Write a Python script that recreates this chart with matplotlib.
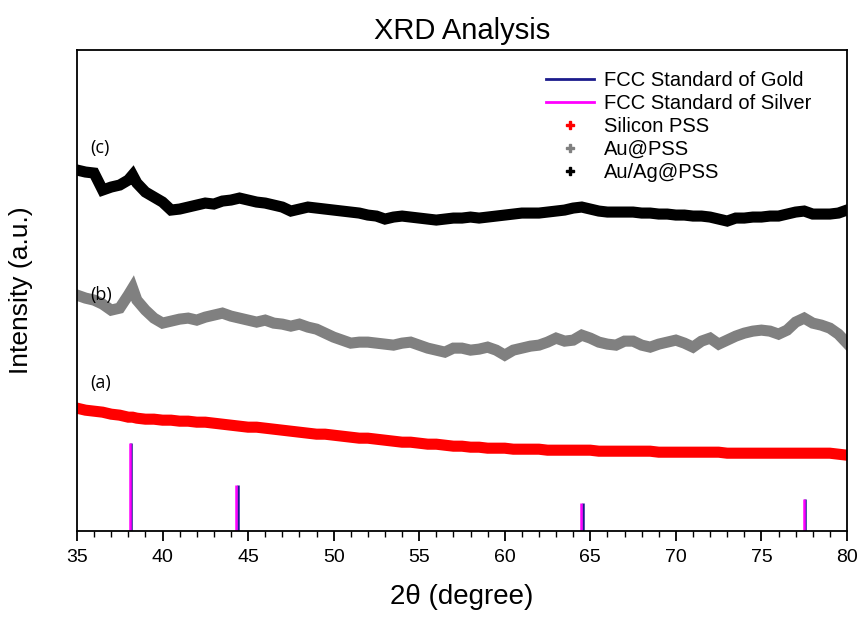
import matplotlib
matplotlib.use('Agg')
import matplotlib.pyplot as plt
from matplotlib.lines import Line2D
from matplotlib.ticker import MultipleLocator

plt.rcParams['font.family'] = ['Liberation Sans', 'DejaVu Sans']

# 2theta 网格 (degree)
two_theta = [35.0, 35.5, 36.0, 36.5, 37.0, 37.5, 38.0, 38.25, 38.5, 39.0, 39.5,
             40.0, 40.5, 41.0, 41.5, 42.0, 42.5, 43.0, 43.5, 44.0, 44.5,
             45.0, 45.5, 46.0, 46.5, 47.0, 47.5, 48.0, 48.5, 49.0, 49.5,
             50.0, 50.5, 51.0, 51.5, 52.0, 52.5, 53.0, 53.5, 54.0, 54.5,
             55.0, 55.5, 56.0, 56.5, 57.0, 57.5, 58.0, 58.5, 59.0, 59.5,
             60.0, 60.5, 61.0, 61.5, 62.0, 62.5, 63.0, 63.5, 64.0, 64.5,
             65.0, 65.5, 66.0, 66.5, 67.0, 67.5, 68.0, 68.5, 69.0, 69.5,
             70.0, 70.5, 71.0, 71.5, 72.0, 72.5, 73.0, 73.5, 74.0, 74.5,
             75.0, 75.5, 76.0, 76.5, 77.0, 77.5, 78.0, 78.5, 79.0, 79.5, 80.0]

# (a) Silicon PSS
silicon_pss = [123, 121, 120, 119, 117, 116, 114, 114, 113, 112, 112,
               111, 111, 110, 110, 109, 109, 108, 107, 106, 105,
               104, 104, 103, 102, 101, 100, 99, 98, 97, 97,
               96, 95, 94, 93, 93, 92, 91, 90, 89, 89,
               88, 87, 87, 86, 85, 85, 84, 84, 83, 83,
               83, 82, 82, 82, 82, 81, 81, 81, 81, 81,
               81, 80, 80, 80, 80, 80, 80, 80, 79, 79,
               79, 79, 79, 79, 79, 79, 78, 78, 78, 78,
               78, 78, 78, 78, 78, 78, 78, 78, 78, 77, 76]

# (b) Au@PSS
au_pss = [236, 233, 231, 227, 221, 223, 236, 243, 231, 221, 213,
          208, 210, 212, 213, 211, 214, 216, 218, 215, 213,
          211, 209, 211, 208, 207, 205, 207, 204, 202, 198,
          194, 191, 188, 189, 189, 188, 187, 186, 188, 189,
          186, 183, 181, 179, 183, 183, 181, 182, 184, 181,
          176, 181, 183, 185, 186, 189, 193, 190, 191, 196,
          193, 189, 187, 186, 190, 190, 186, 184, 187, 189,
          191, 188, 184, 190, 193, 187, 191, 195, 198, 200,
          201, 200, 197, 201, 209, 213, 208, 206, 203, 197, 188]

# (c) Au/Ag@PSS
auag_pss = [361, 359, 358, 341, 344, 346, 351, 356, 348, 339, 334,
            329, 321, 322, 324, 326, 328, 327, 330, 331, 333,
            331, 329, 328, 326, 324, 320, 322, 324, 323, 322,
            321, 320, 319, 318, 316, 315, 312, 314, 315, 314,
            313, 312, 311, 312, 313, 313, 314, 313, 314, 315,
            316, 317, 318, 318, 318, 319, 320, 321, 323, 324,
            322, 320, 319, 319, 319, 319, 318, 318, 317, 317,
            316, 316, 315, 315, 314, 312, 310, 313, 313, 314,
            314, 315, 315, 317, 319, 320, 317, 317, 317, 318, 321]

# FCC 标准峰位置及高度
gold_pos = [38.18, 44.39, 64.58, 77.55]
silver_pos = [38.12, 44.28, 64.43, 77.47]
std_height = [88, 46, 28, 32]

fig = plt.figure(figsize=(8.57, 6.17), dpi=100)
ax = fig.add_axes([0.0898, 0.139, 0.8985, 0.780])

ax.vlines(gold_pos, 0, std_height, colors='#1c1c8c', linewidth=1.8)
ax.vlines(silver_pos, 0, std_height, colors='#ff00ff', linewidth=1.8)

ax.plot(two_theta, silicon_pss, color='red', linewidth=8, solid_joinstyle='miter')
ax.plot(two_theta, au_pss, color='#808080', linewidth=8, solid_joinstyle='miter')
ax.plot(two_theta, auag_pss, color='black', linewidth=8, solid_joinstyle='miter')

for lab, yy in [('(a)', 148), ('(b)', 236), ('(c)', 383)]:
    ax.text(35.75, yy, lab, fontsize=13, family=['Open Sans', 'DejaVu Sans'],
            ha='left', va='center')

ax.set_xlim(35, 80)
ax.set_ylim(0, 481)
ax.xaxis.set_major_locator(MultipleLocator(5))
ax.xaxis.set_minor_locator(MultipleLocator(1))
ax.tick_params(axis='x', which='major', direction='out', length=7, width=1.3,
               labelsize=14, pad=6)
ax.tick_params(axis='x', which='minor', direction='out', length=4, width=1.0)
ax.set_yticks([])
for s in ax.spines.values():
    s.set_linewidth(1.3)

ax.set_xlabel('2\u03b8 (degree)', fontsize=20, labelpad=13)
ax.set_ylabel('Intensity (a.u.)', fontsize=19, labelpad=32)
ax.set_title('XRD Analysis', fontsize=21, pad=8)

handles = [
    Line2D([], [], color='#1c1c8c', linewidth=2),
    Line2D([], [], color='#ff00ff', linewidth=2),
    Line2D([], [], color='red', marker='P', markersize=6, linestyle='none'),
    Line2D([], [], color='#808080', marker='P', markersize=6, linestyle='none'),
    Line2D([], [], color='black', marker='P', markersize=6, linestyle='none'),
]
labels = ['FCC Standard of Gold', 'FCC Standard of Silver', 'Silicon PSS',
          'Au@PSS', 'Au/Ag@PSS']
ax.legend(handles, labels, loc='upper left', bbox_to_anchor=(0.596, 0.978),
          frameon=False, fontsize=14.5, handlelength=2.4, handletextpad=0.5,
          borderpad=0, labelspacing=0.2)

fig.savefig('out.png', dpi=100)
